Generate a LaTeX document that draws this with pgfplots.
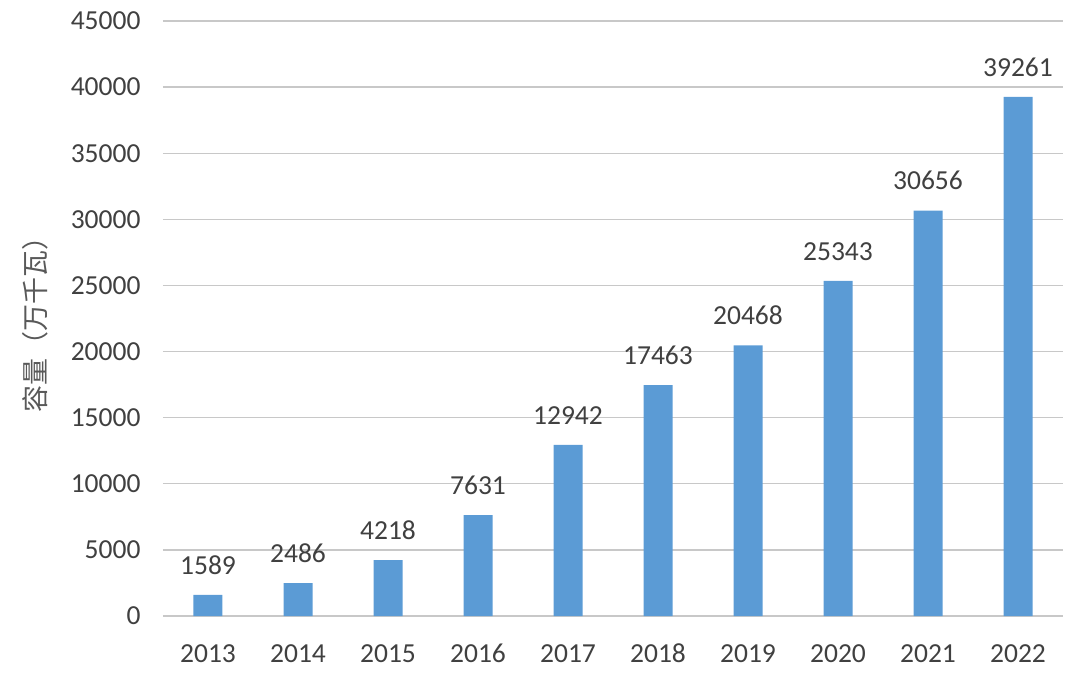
\documentclass[border=0pt]{standalone}
\usepackage{pgfplots}
\pgfplotsset{compat=1.18}
\usepackage{fontspec}
\setmainfont{Carlito}
\newfontfamily\cjk{Noto Sans CJK SC}
\definecolor{barblue}{HTML}{5B9BD5}
\definecolor{txt}{HTML}{404040}
\definecolor{labc}{HTML}{595959}
\definecolor{gridc}{HTML}{C8C8C8}
\begin{document}
\begin{tikzpicture}
\useasboundingbox (-163bp,-67bp) rectangle (917bp,616bp);
\begin{axis}[
  at={(0,0)}, anchor=south west,
  scale only axis, width=900bp, height=595bp,
  xmin=-0.5, xmax=9.5, ymin=0, ymax=45000,
  ytick={0,5000,10000,15000,20000,25000,30000,35000,40000,45000},
  scaled y ticks=false,
  yticklabel style={/pgf/number format/fixed},
  xtick={0,1,2,3,4,5,6,7,8,9},
  xticklabels={2013,2014,2015,2016,2017,2018,2019,2020,2021,2022},
  major tick length=0pt,
  axis line style={draw=none},
  ymajorgrids, grid style={draw=gridc, line width=1.3bp},
  tick label style={font=\fontsize{27.5bp}{33bp}\selectfont, text=txt},
  xticklabel style={yshift=-25bp, text height=18bp, text depth=0pt},
  yticklabel style={xshift=-19bp},
  every axis y label/.style={at={(axis description cs:-0.142,0.5)}, rotate=90, anchor=center},
  ylabel={\cjk 容量（万千瓦）},
  ylabel style={font=\fontsize{27bp}{32bp}\selectfont, text=labc},
  ybar, bar width=29bp, bar shift=0pt,
  nodes near coords,
  every node near coord/.append style={font=\fontsize{27.5bp}{33bp}\selectfont, text=txt, yshift=17bp},
  /pgf/number format/1000 sep={},
  /pgf/number format/assume math mode=true,
]
\addplot[fill=barblue, draw=none] coordinates {
  (0,1589) (1,2486) (2,4218) (3,7631) (4,12942)
  (5,17463) (6,20468) (7,25343) (8,30656) (9,39261)
};
\end{axis}
\end{tikzpicture}
\end{document}
